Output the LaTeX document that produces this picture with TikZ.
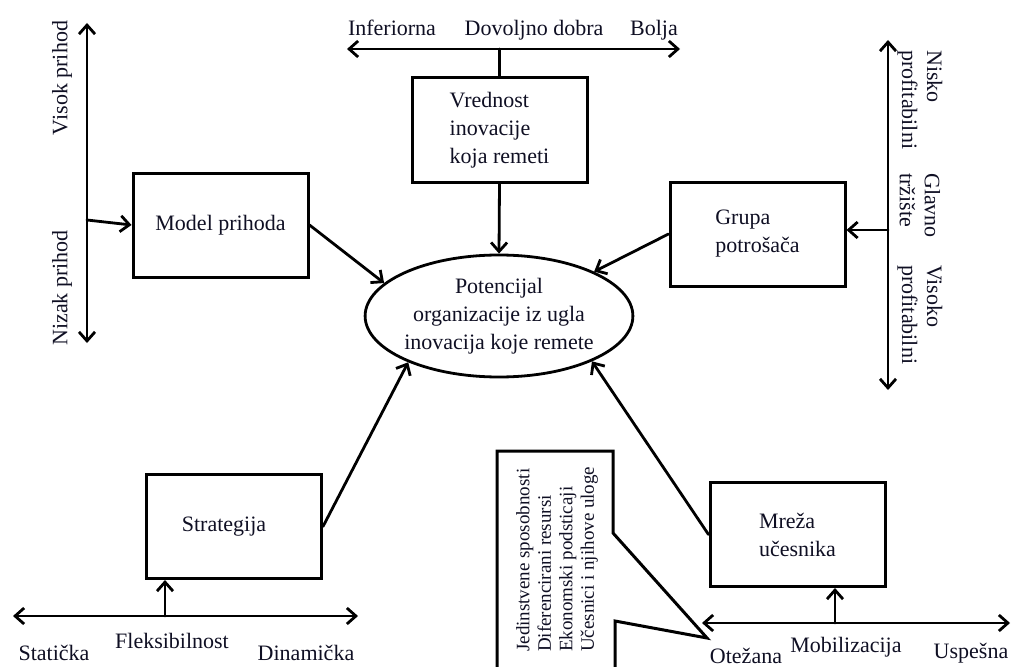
\documentclass[tikz,border=0pt]{standalone}
\usepackage{fontspec}
\setmainfont{Liberation Serif}
\usetikzlibrary{arrows.meta,shapes.geometric}
\definecolor{ink}{RGB}{15,15,35}
\newcommand\mainsize{\fontsize{22}{28}\selectfont}
\newcommand\axissize{\fontsize{22}{25}\selectfont}
\newcommand\notesize{\fontsize{19}{21.5}\selectfont}
\begin{document}
\begin{tikzpicture}[x=1pt,y=-1pt,
  every node/.style={text=ink,font=\mainsize,inner sep=0pt},
  box/.style={draw=black,line width=3pt,minimum width=175pt,minimum height=104pt,align=left},
  conn/.style={draw=black,line width=2.8pt,line cap=round},
  arr/.style={conn,-{Straight Barb[length=9pt,width=16pt]}},
  axis/.style={conn,{Straight Barb[length=9pt,width=16pt]}-{Straight Barb[length=9pt,width=16pt]}},
  lbl/.style={anchor=base},
  vlbl/.style={font=\axissize,align=left}]
\useasboundingbox (0,0) rectangle (1011,666);

% central ellipse
\node[draw=black,line width=2.8pt,ellipse,minimum width=262pt,minimum height=122pt,align=center]
  (pot) at (499,316) {Potencijal\\organizacije iz ugla\\inovacija koje remete};

% the five boxes
\node[box] (vred) at (499.5,130) {Vrednost\\inovacije\\koja remeti};
\node[box] (model) at (220.5,225) {Model prihoda};
\node[box] (grupa) at (757.5,234) {Grupa\\potrošača};
\node[box] (strat) at (234,526.5) {\hspace*{-20pt}Strategija};
\node[box] (mreza) at (797.5,534.5) {Mreža\\učesnika};

% connectors into the ellipse
\draw[arr] (vred.south) -- (pot.north);
\draw[arr] (model.east) -- (pot.164);
\draw[arr] (grupa.west) -- (pot.25);
\draw[arr] (strat.east) -- (pot.207);
\draw[arr] (mreza.west) -- (pot.334);

% top scale
\coordinate (tl) at (347,49);
\coordinate (tr) at (680,49);
\draw[axis] (tl) -- (tr);
\draw[conn] (vred.north |- tl) -- (vred.north);
\node[lbl] (inf) at (392,36) {Inferiorna};
\node[lbl] (dov) at (534,36) {Dovoljno dobra};
\node[lbl] (bol) at (654,36) {Bolja};

% left scale
\coordinate (lt) at (87,23);
\coordinate (lbot) at (87,343);
\coordinate (lb) at (87,220);
\draw[axis] (lt) -- (lbot);
\draw[arr] (lb) -- (model.west);
\node[vlbl,rotate=90] (vis) at (62,78) {Visok prihod};
\node[vlbl,rotate=90] (niz) at (62,288) {Nizak prihod};

% right scale
\coordinate (rt) at (888,40);
\coordinate (rbot) at (888,390);
\coordinate (rb) at (888,230);
\draw[axis] (rt) -- (rbot);
\draw[arr] (rb) -- (rb -| grupa.east);
\node[vlbl,rotate=-90,anchor=west] (nis) at (920,50) {Nisko\\profitabilni};
\node[vlbl,rotate=-90,anchor=west] (gla) at (920,173) {Glavno\\tržište};
\node[vlbl,rotate=-90,anchor=west] (vso) at (920,265) {Visoko\\profitabilni};

% bottom-left scale
\coordinate (bll) at (13,616);
\coordinate (blr) at (358,616);
\coordinate (bl) at (165,616);
\draw[axis] (bll) -- (blr);
\draw[arr] (bl) -- (bl |- strat.south);
\node[lbl] (sta) at (54,660) {Statička};
\node[lbl] (fle) at (172,648) {Fleksibilnost};
\node[lbl] (din) at (306,660) {Dinamička};

% bottom-right scale
\coordinate (brl) at (702,623);
\coordinate (brr) at (1010,623);
\coordinate (br) at (835,623);
\draw[axis] (brl) -- (brr);
\draw[arr] (br) -- (br |- mreza.south);
\node[lbl] (ote) at (746,663) {Otežana};
\node[lbl] (mob) at (846,652) {Mobilizacija};
\node[lbl] (usp) at (971,658) {Uspešna};

% callout listing the network elements
\draw[line width=3pt,line join=miter]
  (497,680) -- (497,451) -- (613,451) -- (613,533) -- (707,638) -- (615,621) -- (615,680);
\node[font=\notesize,align=left,rotate=90,anchor=west] (lst) at (557,652)
  {Jedinstvene sposobnosti\\Diferencirani resursi\\Ekonomski podsticaji\\Učesnici i njihove uloge};
\end{tikzpicture}
\end{document}
